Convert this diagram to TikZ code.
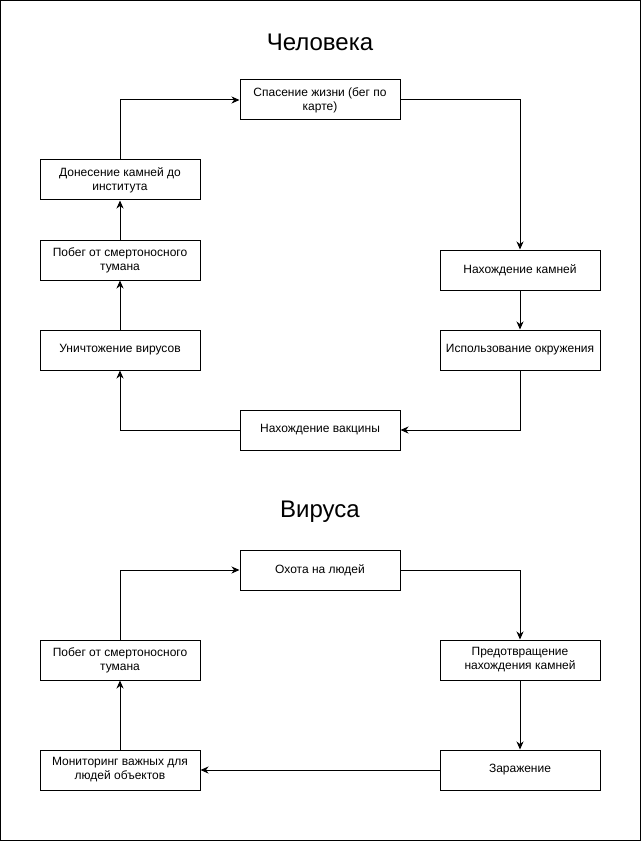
\documentclass[tikz,border=0pt]{standalone}
\usepackage{fontspec}
\setmainfont{Liberation Sans}
\usetikzlibrary{arrows.meta}

\tikzset{
  stage/.style={draw, line width=1pt, minimum width=160pt, minimum height=40pt,
    align=center, inner sep=0pt, font=\fontsize{12}{14}\selectfont},
  heading/.style={font=\fontsize{24}{28}\selectfont},
  hv/.style={to path={-| (\tikztotarget)}},
  vh/.style={to path={|- (\tikztotarget)}}
}

\begin{document}
\begin{tikzpicture}[x=1pt,y=-1pt,line width=1pt,>={Stealth[length=8pt,width=7pt,inset=2.5pt]}]
				\useasboundingbox (0,0) rectangle (642,842);
				\draw (0.5,0.5) rectangle (640.5,840.5);
				% human
				\node[heading] (tman) at (320,42) {Человека};
				\node[stage] (save) at (320,100) {Спасение жизни (бег по\\карте)};
				\node[stage] (carry) at (120,180) {Донесение камней до\\института};
				\node[stage] (fog1) at (120,260) {Побег от смертоносного\\тумана};
				\node[stage] (kill) at (120,350) {Уничтожение вирусов};
				\node[stage] (stones) at (520,270) {Нахождение камней};
				\node[stage] (env) at (520,350) {Использование окружения};
				\node[stage] (vacc) at (320,430) {Нахождение вакцины};
				\path[->]
				(save.east) edge[hv] (stones.north)
				(stones) edge (env)
				(env.south) edge[vh] (vacc.east)
				(vacc.west) edge[hv] (kill.south)
				(kill) edge (fog1)
				(fog1) edge (carry)
				(carry.north) edge[vh] (save.west);
				% virus
				\node[heading] (tvir) at (320,512) {Вируса};
				\node[stage] (hunt) at (320,570) {Охота на людей};
				\node[stage] (block) at (520,660) {Предотвращение\\нахождения камней};
				\node[stage] (infect) at (520,770) {Заражение};
				\node[stage] (watch) at (120,770) {Мониторинг важных для\\людей объектов};
				\node[stage] (fog2) at (120,660) {Побег от смертоносного\\тумана};
				\path[->]
				(hunt.east) edge[hv] (block.north)
				(block) edge (infect)
				(infect) edge (watch)
				(watch) edge (fog2)
				(fog2.north) edge[vh] (hunt.west);
			\end{tikzpicture}
\end{document}
